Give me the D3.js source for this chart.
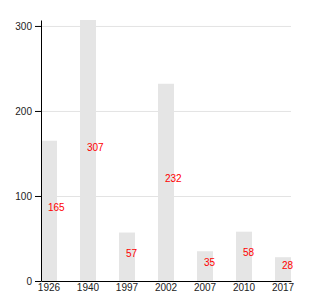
<!DOCTYPE html>
<html>
<head>
<meta charset="utf-8">
<script src="https://cdn.jsdelivr.net/npm/d3@7"></script>
<style>
  body { margin: 0; background: #fff; }
  svg { font-family: "Liberation Sans", Arial, Helvetica, sans-serif; }
  .grid line { stroke: #e3e3e3; }
</style>
</head>
<body>
<svg class="chart" width="330" height="300"></svg>
<script>
/* datos */
const years = ["1926", "1940", "1997", "2002", "2007", "2010", "2017"]
const values = [165, 307, 57, 232, 35, 58, 28]
const yTicks = [0, 100, 200, 300]

const margin = {top: 20, right: 39, bottom: 19, left: 41}
const width = 330 - margin.left - margin.right
const height = 300 - margin.top - margin.bottom

const svg = d3.select('.chart')
const g = svg.append('g').attr('transform', `translate(${margin.left},${margin.top})`)

/* escalas */
const x = d3.scaleBand()
  .domain(years)
  .range([0, width])
  .paddingInner(0.59)
  .paddingOuter(0)

const y = d3.scaleLinear()
  .domain([0, d3.max(values)])
  .range([height, 0])

/* rejilla */
g.append('g')
  .attr('class', 'grid')
  .call(d3.axisLeft(y).tickValues(yTicks.filter(t => t > 0)).tickSize(-width).tickFormat(''))
  .call(s => s.select('.domain').remove())

/* barras */
const data = years.map((yr, i) => ({year: yr, value: values[i]}))

g.selectAll('rect.bar')
  .data(data)
  .join('rect')
  .attr('class', 'bar')
  .attr('x', d => x(d.year))
  .attr('y', d => y(d.value))
  .attr('width', x.bandwidth())
  .attr('height', d => height - y(d.value))
  .attr('fill', '#e5e5e5')

/* etiquetas */
g.selectAll('text.label')
  .data(data)
  .join('text')
  .attr('class', 'label')
  .attr('x', d => x(d.year) + x.bandwidth() / 2 - 1)
  .attr('y', d => y(d.value / 2))
  .attr('fill', '#ff0000')
  .attr('font-size', 10)
  .text(d => d.value)

/* ejes */
g.append('g')
  .attr('transform', `translate(0,${height})`)
  .call(d3.axisBottom(x).tickSize(0).tickPadding(3))
  .call(s => s.selectAll('text').attr('font-size', 10).attr('fill', '#222'))
  .call(s => s.attr('font-family', null))

g.append('g')
  .call(d3.axisLeft(y).tickValues(yTicks).tickSizeOuter(0))
  .call(s => s.selectAll('text').attr('font-size', 10).attr('fill', '#222'))
  .call(s => s.attr('font-family', null))
</script>
</body>
</html>
